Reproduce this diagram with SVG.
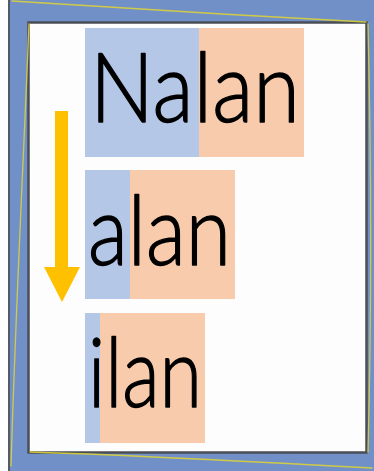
<svg xmlns="http://www.w3.org/2000/svg" width="374" height="471" viewBox="0 0 374 471">
<style>
.word{font-family:"Lato","Open Sans","DejaVu Sans",sans-serif;font-weight:300;font-size:96px;fill:#000;stroke:#000;stroke-width:1.4;stroke-linejoin:round}
.b{fill:#B4C7E7}
.o{fill:#F8CBAD}
.sk{fill:none;stroke:#D9D23A;stroke-width:1.3;stroke-linecap:round;opacity:0.9}
</style>
<g id="frame">
<rect x="0" y="0" width="374" height="471" fill="#ffffff"/>
<rect x="9" y="-2" width="367" height="475" fill="#7290C8" stroke="#555a66" stroke-width="2"/>
<rect x="28.5" y="22.5" width="338" height="430" fill="#fdfdfd" stroke="#4a4d55" stroke-width="2.5"/>
<path class="sk" d="M12 1 C120 8 250 16 366 22"/>
<path class="sk" d="M29 24 C24 150 16 300 11 466"/>
<path class="sk" d="M368 24 C371 150 372 300 368 452"/>
<path class="sk" d="M30 452 C130 455 260 462 372 468"/>
</g>
<g id="node-nalan">
<rect class="b" x="85" y="28" width="114" height="129"/>
<rect class="o" x="199" y="28" width="105" height="129"/>
<text class="word" x="90" y="122" textLength="210" lengthAdjust="spacingAndGlyphs">Nalan</text>
</g>
<g id="node-alan">
<rect class="b" x="85" y="170" width="45" height="129"/>
<rect class="o" x="130" y="170" width="105" height="129"/>
<text class="word" x="88" y="265" textLength="143" lengthAdjust="spacingAndGlyphs">alan</text>
</g>
<g id="node-ilan">
<rect class="b" x="85" y="313" width="15" height="130"/>
<rect class="o" x="100" y="313" width="105" height="130"/>
<text class="word" x="88" y="407" textLength="114" lengthAdjust="spacingAndGlyphs">ilan</text>
</g>
<g id="connectors">
<path d="M55 111 H68 V267 H80 L62 302 L44 267 H55 Z" fill="#FFC000"/>
</g>
</svg>
